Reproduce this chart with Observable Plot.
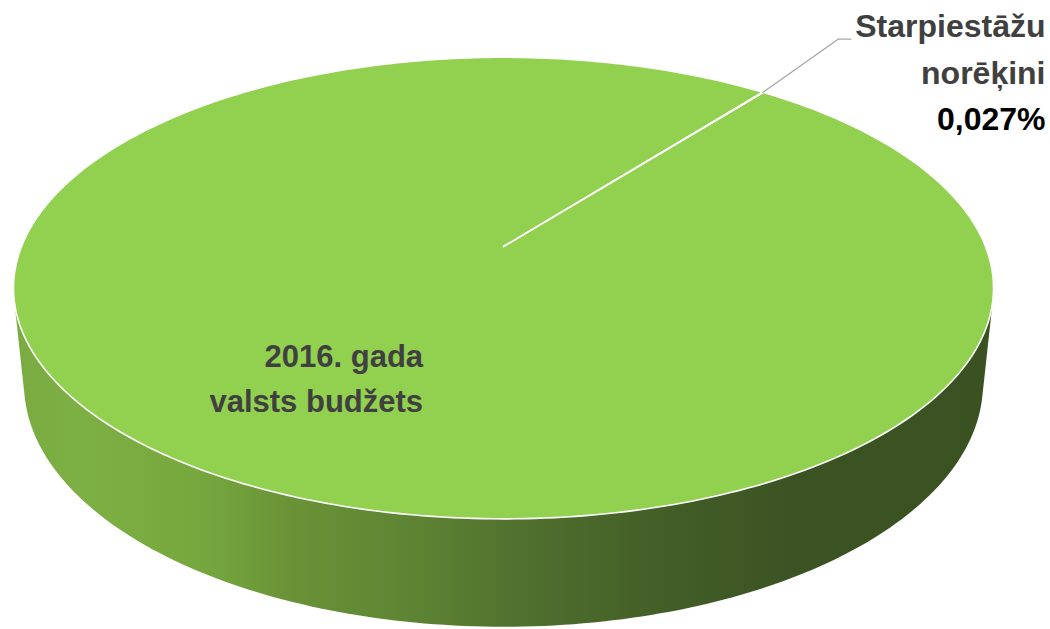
<!DOCTYPE html>
<html>
<head>
<meta charset="utf-8">
<script src="https://cdn.jsdelivr.net/npm/d3@7"></script>
<script src="https://cdn.jsdelivr.net/npm/@observablehq/plot@0.6"></script>
<style>
  html, body { margin: 0; padding: 0; background: #ffffff; }
  #chart svg { display: block; }
</style>
</head>
<body>
<div id="chart"></div>
<script>
// ---- data ----
const categories = ["2016. gada valsts budžets", "Starpiestāžu norēķini"];
const shares = [99.973, 0.027];
const labelLines = [["2016. gada", "valsts budžets"], ["Starpiestāžu", "norēķini"]];
const colors = ["#92d050", "#92d050"];

// ---- 3D view parameters ----
const rotationDeg = 38;      // angle of first slice
const tiltDeg = 27.6;        // viewing elevation
const camDist = 4.92;        // perspective distance (radius units)
const depth = 0.226;         // pie thickness (radius units)

const s = Math.sin(tiltDeg * Math.PI / 180), c = Math.cos(tiltDeg * Math.PI / 180);
function project(theta, r, h) {
  const X = r * Math.sin(theta), Zw = -r * Math.cos(theta);
  const yc = h * c - Zw * s;
  const zc = h * s + Zw * c;
  const k = camDist / (camDist - zc);
  return {x: X * k, y: -yc * k};
}

const rot = rotationDeg * Math.PI / 180;
const arcs = d3.pie().sort(null).startAngle(rot).endAngle(rot + 2 * Math.PI)(shares);

function arcPoints(a, r, h) {
  const n = Math.max(2, Math.ceil((a.endAngle - a.startAngle) * 180 / Math.PI));
  const pts = [];
  for (let i = 0; i <= n; i++) {
    const t = a.startAngle + (a.endAngle - a.startAngle) * i / n;
    pts.push(project(t, r, h));
  }
  return pts;
}

// top faces of slices
const topFaces = arcs.flatMap((a, i) =>
  [project(0, 0, 0), ...arcPoints(a, 1, 0)].map(p => ({...p, slice: i}))
);
// side walls: hull of top and bottom rims per slice
const walls = arcs.flatMap((a, i) => {
  const pts = [...arcPoints(a, 1, 0), ...arcPoints(a, 1, -depth)].map(p => [p.x, p.y]);
  const hull = d3.polygonHull(pts) || pts;
  return hull.map(([x, y]) => ({x, y, slice: i}));
});

// leader line for the small slice
const small = arcs[1];
const smallMid = (small.startAngle + small.endAngle) / 2;
const rimPt = project(smallMid, 1, 0);
const elbow = project(smallMid, 1.36, 0);
const leader = [rimPt, {x: elbow.x - 0.006, y: elbow.y - 0.014}, {x: elbow.x + 0.02, y: elbow.y - 0.014}];

// label anchor for the big slice
const big = arcs[0];
const bigMid = (big.startAngle + big.endAngle) / 2;
const bigLabel = [{...project(bigMid, 0.6, 0), text: labelLines[0].join("\n")}];

const fmtPct = v => d3.format(".3f")(v).replace(".", ",") + "%";

const plot = Plot.plot({
  width: 1050,
  height: 629,
  margin: 0,
  x: {domain: [-1.04357, 1.13485], range: [0, 1050], axis: null},
  y: {domain: [-0.51037, 0.79461], range: [0, 629], axis: null},
  style: {background: "#ffffff"},
  marks: [
    Plot.line(walls, {x: "x", y: "y", z: "slice", curve: "linear-closed",
      fill: "url(#sideGrad)", stroke: "none"}),
    Plot.line(topFaces, {x: "x", y: "y", z: "slice", curve: "linear-closed",
      fill: d => colors[d.slice], stroke: "#ffffff", strokeWidth: 1.6, strokeLinejoin: "round"}),
    Plot.line(leader, {x: "x", y: "y", stroke: "#a6a6a6", strokeWidth: 1.3}),
    Plot.text(bigLabel, {x: "x", y: "y", text: "text", textAnchor: "end", lineAnchor: "middle",
      dx: 114, dy: 13, lineHeight: 1.45, fontFamily: "Liberation Sans", fontWeight: "bold",
      fontSize: 31, fill: "#404040"}),
    Plot.text([labelLines[1].join("\n")], {text: d => d, frameAnchor: "top-right", textAnchor: "end",
      lineAnchor: "top", dx: -5, dy: 4, lineHeight: 1.45, fontFamily: "Liberation Sans",
      fontWeight: "bold", fontSize: 32, fill: "#404040"}),
    Plot.text([fmtPct(shares[1])], {text: d => d, frameAnchor: "top-right", textAnchor: "end",
      lineAnchor: "top", dx: -5, dy: 107, fontFamily: "Liberation Sans",
      fontWeight: "bold", fontSize: 32, fill: "#000000"})
  ]
});

// gradient definition for side walls
const defs = d3.select(plot).insert("defs", ":first-child");
const grad = defs.append("linearGradient").attr("id", "sideGrad")
  .attr("x1", "0").attr("x2", "1").attr("y1", "0").attr("y2", "0");
[[0, "#79ab40"], [0.07, "#7db044"], [0.2, "#75a63d"], [0.28, "#6a9337"], [0.4, "#5e8533"],
 [0.53, "#4f6f2e"], [0.65, "#445f27"], [0.8, "#3b5323"], [1, "#3a5222"]]
  .forEach(([o, col]) => grad.append("stop").attr("offset", o).attr("stop-color", col));

document.getElementById("chart").appendChild(plot);
</script>
</body>
</html>
